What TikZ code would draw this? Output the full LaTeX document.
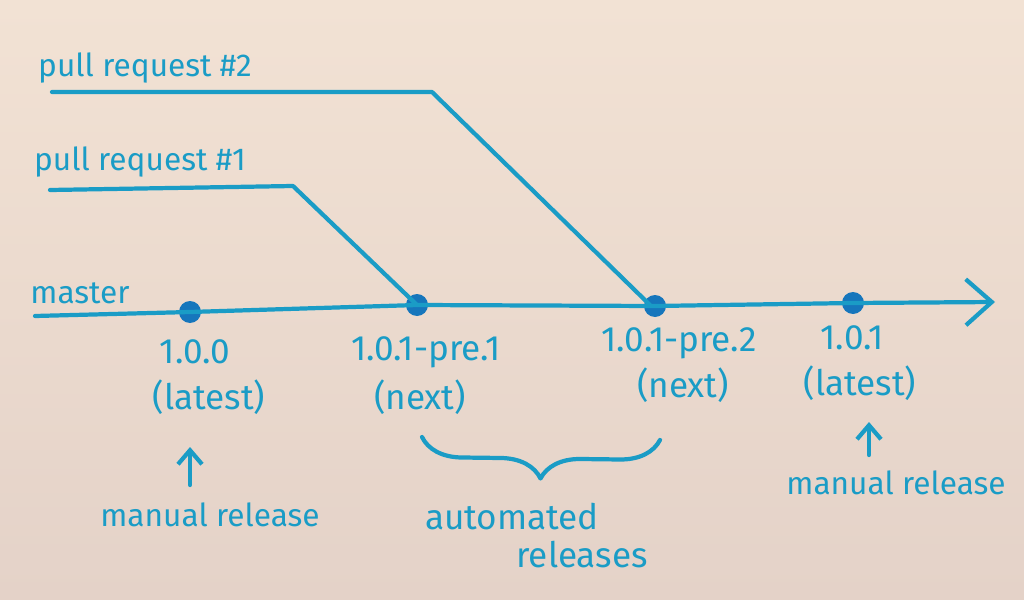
\documentclass[tikz,border=0pt]{standalone}
\usepackage{fontspec}
\setmainfont{Fira Sans}
\usepackage{tikz}
\usetikzlibrary{arrows.meta, decorations.pathreplacing}

\definecolor{paper}{RGB}{242,226,212}
\definecolor{paperlow}{RGB}{228,210,200}
\definecolor{pen}{RGB}{26,156,198}
\definecolor{pendot}{RGB}{22,118,188}

\begin{document}
\begin{tikzpicture}[x = 0.1mm, y = -0.1mm,
  ink/.style = {pen, line width = 1.2pt, line cap = round, line join = round},
  dot/.style = {circle, fill = pendot, inner sep = 0pt, minimum size = 2.2mm},
  lbl/.style = {text = pen, font = \normalsize, inner sep = 1pt},
  small/.style = {text = pen, font = \small, inner sep = 1pt}]

\shade[top color = paper, bottom color = paperlow] (0, 0) rectangle (1024, 600);
\useasboundingbox (0, 0) rectangle (1024, 600);

% commits on master
\node[dot] (v100) at (190, 312) {};
\node[dot] (vpre1) at (417, 305) {};
\node[dot] (vpre2) at (655, 306) {};
\node[dot] (v101) at (853, 303) {};
\coordinate (mstart) at (35, 316);
\coordinate (mend) at (995, 302);

\draw[ink, -{Straight Barb[length = 2.6mm, width = 4.6mm, line width = 1.2pt]}]
   (mstart) -- (v100.center) -- (vpre1.center) -- (vpre2.center) -- (v101.center) -- (mend);
\node[small] (master) at (80, 293) {master};

% pull requests
\coordinate (pr1start) at (50, 190);
\coordinate (pr1bend) at (293, 186);
\coordinate (pr2start) at (52, 92);
\coordinate (pr2bend) at (432, 92);
\draw[ink] (pr1start) -- (pr1bend) -- (vpre1.center);
\draw[ink] (pr2start) -- (pr2bend) -- (650, 305);
\node[small] (pr1) at (140, 162) {pull request \#1};
\node[small] (pr2) at (145, 68) {pull request \#2};

% version labels
\node[lbl] (ver1) at (195, 352) {1.0.0};
\node[lbl] (tag1) at (209, 397) {(latest)};
\node[lbl] (ver2) at (426, 352) {1.0.1-pre.1};
\node[lbl] (tag2) at (420, 397) {(next)};
\node[lbl] (ver3) at (679, 343) {1.0.1-pre.2};
\node[lbl] (tag3) at (683, 385) {(next)};
\node[lbl] (ver4) at (852, 338) {1.0.1};
\node[lbl] (tag4) at (860, 383) {(latest)};

% releases
\node[small] (man1) at (210, 515) {manual release};
\node[small] (man2) at (896, 483) {manual release};
\coordinate (up1) at (190, 485);
\coordinate (up2) at (869, 455);
\draw[ink, -{Straight Barb[length = 1.4mm, width = 2.4mm, line width = 1.2pt]}] (up1) -- ++(0, -38);
\draw[ink, -{Straight Barb[length = 1.4mm, width = 2.4mm, line width = 1.2pt]}] (up2) -- ++(0, -33);

\coordinate (bleft) at (422, 437);
\coordinate (bright) at (660, 440);
\draw[ink, decorate, decoration = {brace, mirror, amplitude = 4mm}] (bleft) -- (bright);
\node[lbl] (auto1) at (512, 517) {automated};
\node[lbl] (auto2) at (582, 555) {releases};

\end{tikzpicture}
\end{document}
